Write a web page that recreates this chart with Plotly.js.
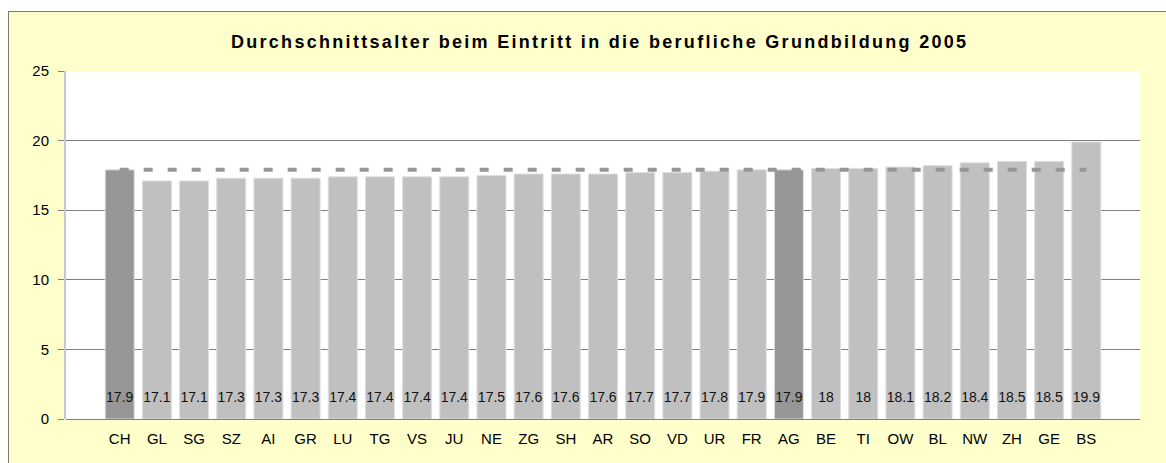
<!DOCTYPE html>
<html>
<head>
<meta charset="utf-8">
<script src="https://cdn.plot.ly/plotly-3.0.1.min.js"></script>
<style>
  html, body { margin: 0; padding: 0; background: #ffffff; width: 1166px; height: 463px; overflow: hidden; }
  #frame { position: absolute; left: 8px; top: 11px; width: 1158px; height: 452px;
           border-top: 1px solid #7a7a7a; border-left: 1px solid #7a7a7a; box-sizing: border-box; background: #ffffcc; }
  #chart { position: absolute; left: 0; top: 0; width: 1157px; height: 451px; }
  .gtitle { letter-spacing: 2.3px; }
</style>
</head>
<body>
<div id="frame"><div id="chart"></div></div>
<script>
// ---- data ----
const categories = ["CH","GL","SG","SZ","AI","GR","LU","TG","VS","JU","NE","ZG","SH","AR","SO","VD","UR","FR","AG","BE","TI","OW","BL","NW","ZH","GE","BS"];
const values     = [17.9,17.1,17.1,17.3,17.3,17.3,17.4,17.4,17.4,17.4,17.5,17.6,17.6,17.6,17.7,17.7,17.8,17.9,17.9,18,18,18.1,18.2,18.4,18.5,18.5,19.9];
const highlighted = ["CH","AG"];
const yTickVals  = [0,5,10,15,20,25];
const titleText  = "Durchschnittsalter beim Eintritt in die berufliche Grundbildung 2005";

// ---- styling ----
const FONT = "Arial, 'Liberation Sans', sans-serif";
const LIGHT = "#c0c0c0", DARK = "#969696";
const LABEL_Y = 1.45;   // vertical position of the value labels inside the bars

const referenceValue = values[categories.indexOf("CH")];
const refLine = categories.map(() => referenceValue);
const barColors = categories.map(c => highlighted.includes(c) ? DARK : LIGHT);
const labelY = categories.map(() => LABEL_Y);
const labelText = values.map(v => String(v));

const traces = [
  {
    type: "bar", x: categories, y: values,
    marker: { color: barColors, line: { color: "#dedede", width: 1 } },
    hoverinfo: "x+y", showlegend: false
  },
  {
    type: "scatter", mode: "lines", x: categories, y: refLine,
    line: { color: DARK, width: 4, dash: "9px,15px" },
    hoverinfo: "skip", showlegend: false
  },
  {
    type: "scatter", mode: "text", x: categories, y: labelY, text: labelText,
    textposition: "middle center",
    textfont: { family: FONT, size: 14, color: "#111111" },
    hoverinfo: "skip", showlegend: false
  }
];

const layout = {
  width: 1157, height: 451,
  paper_bgcolor: "#ffffcc", plot_bgcolor: "#ffffff",
  margin: { l: 57, r: 26, t: 59, b: 44, pad: 0 },
  font: { family: FONT, size: 15, color: "#000000" },
  title: {
    text: "<b>" + titleText + "</b>",
    font: { family: FONT, size: 18, color: "#000000" },
    xref: "container", x: 0.5105, xanchor: "center",
    yref: "container", y: 1 - 30/451, yanchor: "middle"
  },
  bargap: 0.22,
  xaxis: {
    type: "category", showgrid: false, zeroline: false, showline: false,
    ticks: "", ticklabelstandoff: 9,
    tickfont: { family: FONT, size: 15, color: "#000000" },
    fixedrange: true
  },
  yaxis: {
    range: [0, 25], tickvals: yTickVals, ticktext: yTickVals.map(String),
    showgrid: true, gridcolor: "#808080", gridwidth: 1,
    zeroline: true, zerolinecolor: "#808080", zerolinewidth: 1,
    showline: true, linecolor: "#c8c8c8", linewidth: 2,
    ticks: "outside", ticklen: 6, tickcolor: "#808080", tickwidth: 1,
    ticklabelstandoff: 6,
    tickfont: { family: FONT, size: 15, color: "#000000" },
    fixedrange: true
  },
  showlegend: false
};

Plotly.newPlot("chart", traces, layout, { displayModeBar: false, staticPlot: true });
</script>
</body>
</html>
